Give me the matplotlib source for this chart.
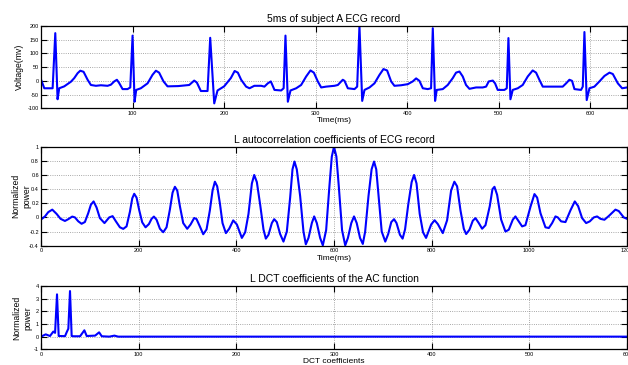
import matplotlib
matplotlib.use("Agg")
import matplotlib.pyplot as plt
from matplotlib.ticker import FuncFormatter

plt.rcParams['font.family'] = ['Liberation Sans', 'DejaVu Sans']

# ECG record (time in ms, voltage in mv)
ecg_t = [0, 3.6, 12.7, 15.6, 18.1, 19.9, 25.4, 32.7, 36.3, 40, 42.9, 46.5, 50.9, 54.5,
         60, 65.4, 72.7, 76.3, 80, 82.9, 85.4, 89.1, 94.5, 97.5, 100, 102.2, 104, 109,
         116.4, 121.8, 125.5, 129, 133.8, 138.2, 150, 161.9, 167.3, 170.2, 174.6, 181.9,
         184.8, 189.2, 192.8, 200, 207.3, 211.5, 215, 218.6, 224, 227.7, 233, 240.5, 244,
         247.7, 251, 255, 262.3, 265, 267, 269.6, 272.5, 278.7, 284.1, 289.6, 294.3, 298,
         302.3, 306, 311.4, 320.5, 324.2, 329.6, 331.5, 335.1, 342.4, 345.3, 347.8, 350.8,
         353.3, 358.8, 364.2, 369.7, 374, 378, 382.4, 386, 393.3, 400.6, 406, 409.7, 413.3,
         417, 422.4, 426, 427.9, 430.4, 432.2, 438.8, 444.2, 449.7, 453.3, 457, 460.6,
         464.2, 467.9, 475.2, 482.4, 486.1, 489, 493.4, 495.9, 498.8, 506.1, 508.7, 510.5,
         512.7, 515.2, 520.7, 526.1, 531.6, 537, 540.7, 544.3, 548, 555.3, 562.6, 569.8,
         573.5, 577.1, 580, 582.6, 589.8, 591.7, 593.5, 596, 599, 604.4, 609.9, 615.4,
         620.9, 624.5, 630, 634.7, 640]
ecg_mv = [5, -27, -27, 174, -67, -27, -20, -3, 10, 28, 37, 33, 4, -15,
          -18, -16, -18, -14, -2, 4, -8, -30, -30, -24, 165, -76, -33, -27,
          -9, 22, 37, 30, -2, -20, -19, -15, 1, -6, -37, -37,
          157, -82, -35, -20, 10, 36, 30, 4, -21, -27, -18, -18, -21,
          -9, -2, -33, -35, -27, 165, -76, -35, -27, -15, 16, 38, 30,
          -2, -24, -21, -18, -15, 4, 0, -27, -30, -21, 200, -73,
          -33, -24, -9, 22, 43, 38, -2, -18, -16, -12, -2, 9, 0,
          -27, -30, -27, 192, -73, -33, -30, -15, 10, 30, 34, 16,
          -15, -29, -24, -24, -21, -2, 1, -9, -33, -33, -27, 156,
          -67, -33, -27, -15, 16, 38, 30, 4, -21, -21, -21, -21,
          -9, 4, 0, -30, -33, -21, 178, -70, -27, -21, -2, 18,
          30, 25, -9, -27, -24]

# autocorrelation of the record (lag in ms, normalized power)
acf_lag = [0, 8.1, 14.9, 23.1, 31.9, 40.1, 49, 55.8, 64, 69.5, 76.3, 83.1, 89.9, 96.7,
           102.2, 107.7, 113.8, 120.6, 130, 139.7, 146.6, 153.4, 161.6, 168.4, 175.2,
           182.1, 186.9, 190.9, 195.7, 201.2, 207.3, 214.1, 221, 226.4, 231.2, 236.7,
           243.5, 250.3, 257.1, 263.9, 269.4, 274.2, 279, 284.4, 291.2, 299.4, 306.3,
           313.7, 318.5, 325.3, 332.2, 339, 345.8, 351.3, 356.1, 360.8, 366.3, 371.7,
           378.6, 385.4, 393.6, 401.1, 411.3, 418.1, 424.9, 431.8, 436.6, 442, 448.8,
           455.6, 460.4, 465.9, 472.7, 477.5, 482.9, 489.7, 496.5, 503.4, 510.2, 515,
           519.1, 523.8, 530.7, 537.5, 542.3, 547.8, 554.6, 559.4, 564.8, 571.6, 577.1,
           583.9, 590.7, 595.5, 600,
           604.9, 609.7, 616.5, 623, 628.5, 635.4, 641, 646.5, 653.3, 659, 663.8, 670.6,
           677, 682, 686.5, 691.5, 697.7, 705, 711, 717.3, 723, 728, 735, 740.5, 745.5,
           752, 759, 764, 769, 775.5, 782.3, 788.5, 799, 806, 812.6, 822.8, 831.6, 839.8,
           846.5, 852.1, 859, 865.8, 870.6, 877.4, 884.2, 889.7, 896.5, 903.3, 910.2, 919,
           924.5, 928.6, 934, 942.2, 951.1, 957.9, 966.1, 971.5, 978.4, 985.2, 992,
           1002.3, 1010.5, 1016, 1022.8, 1033, 1039.9, 1046.7, 1053.5, 1058.3, 1065.1,
           1074, 1084.2, 1093.1, 1099.9, 1108.1, 1116.3, 1123.8, 1132, 1138.8, 1145.6,
           1153.8, 1162.7, 1176.3, 1183.1, 1193.4, 1200]
acf_val = [-0.03, 0.014, 0.075, 0.11, 0.05, -0.02, -0.05, -0.025, 0.012, 0.0, -0.055, -0.09,
           -0.065, 0.06, 0.18, 0.226, 0.14, -0.01, -0.08, 0.0, 0.018, -0.056, -0.14, -0.162,
           -0.127, 0.08, 0.27, 0.334, 0.28, 0.1, -0.07, -0.14, -0.094, -0.02, 0.012,
           -0.033, -0.16, -0.21, -0.14, 0.11, 0.35, 0.433, 0.38, 0.16, -0.08, -0.161, -0.1,
           -0.008, -0.023, -0.127, -0.238, -0.17, 0.1, 0.38, 0.505, 0.44, 0.2, -0.08,
           -0.222, -0.16, -0.042, -0.1, -0.29, -0.21, 0.05, 0.48, 0.6, 0.5, 0.18,
           -0.17, -0.3, -0.245, -0.08, -0.025, -0.066, -0.235, -0.342, -0.2, 0.28, 0.68,
           0.79, 0.68, 0.3, -0.2, -0.38, -0.29, -0.08, 0.014, -0.08, -0.29, -0.395,
           -0.18, 0.45, 0.86, 1.0,
           0.86, 0.45, -0.18, -0.395, -0.29, -0.08, 0.014, -0.08, -0.29, -0.375, -0.2, 0.3,
           0.68, 0.79, 0.68, 0.28, -0.2, -0.342, -0.235, -0.066, -0.025, -0.08, -0.245, -0.3,
           -0.17, 0.18, 0.5, 0.6, 0.48, 0.05, -0.21, -0.29, -0.1, -0.04, -0.094, -0.222,
           -0.04, 0.38, 0.505, 0.44, 0.1, -0.16, -0.235, -0.174, -0.047, -0.01, -0.08,
           -0.16, -0.11, 0.16, 0.4, 0.433, 0.32, -0.03, -0.2, -0.174, -0.033, 0.014,
           -0.056, -0.127, -0.11, 0.15, 0.33, 0.28, 0.06, -0.14, -0.15, -0.08, 0.014,
           0.0, -0.056, -0.066, 0.1, 0.226, 0.16, -0.01, -0.08, -0.056, 0.0, 0.014,
           -0.02, -0.033, 0.02, 0.11, 0.09, 0.0, -0.02]

# DCT coefficients of the autocorrelation function
dct_idx = [0, 4.8, 9.2, 12.6, 14.4, 16.4, 18.1, 24.6, 26.3, 28, 29.7, 31.4, 33.2, 40,
           44.4, 46.8, 55.4, 59.5, 62.2, 70, 75.2, 79, 100, 600]
dct_val = [0, 0.18, 0.05, 0.4, 0.3, 3.34, 0.05, 0.04, 0.35, 0.63, 3.6, 0.05, 0.03, 0.03,
           0.5, 0.05, 0.08, 0.34, 0.03, 0.0, 0.08, 0.0, 0.0, 0.0]

W, H = 628, 365
fig = plt.figure(figsize=(W / 100, H / 100), dpi=100)


def add_axes_px(top, bottom, left=41, right=627):
    return fig.add_axes([left / W, 1 - bottom / H, (right - left) / W, (bottom - top) / H])


def style(ax, xticks, yticks):
    fmt = FuncFormatter(lambda v, p: '%g' % v)
    ax.set_xticks(xticks)
    ax.set_yticks(yticks)
    ax.xaxis.set_major_formatter(fmt)
    ax.yaxis.set_major_formatter(fmt)
    ax.tick_params(direction='in', length=4.2, width=0.8, labelsize=4,
                   top=True, right=True, colors='black')
    ax.tick_params(axis='x', pad=2)
    ax.tick_params(axis='y', pad=1.5)
    ax.grid(True, linestyle=':', color='0.55', linewidth=0.6)
    for s in ax.spines.values():
        s.set_linewidth(0.9)


blue = '#0000ff'

ax1 = add_axes_px(26, 108.3)
ax1.plot(ecg_t, ecg_mv, color=blue, linewidth=1.5)
ax1.set_xlim(0, 640)
ax1.set_ylim(-100, 200)
style(ax1, [100, 200, 300, 400, 500, 600], [-100, -50, 0, 50, 100, 150, 200])
ax1.set_title('5ms of subject A ECG record', fontsize=7.5, pad=3)
ax1.set_xlabel('Time(ms)', fontsize=6, labelpad=1)
ax1.set_ylabel('Voltage(mv)', fontsize=6.2)
ax1.yaxis.set_label_coords(-0.029, 0.5)

ax2 = add_axes_px(146.7, 245.7)
ax2.plot(acf_lag, acf_val, color=blue, linewidth=1.5)
ax2.set_xlim(0, 1200)
ax2.set_ylim(-0.4, 1)
style(ax2, [0, 200, 400, 600, 800, 1000, 1200], [-0.4, -0.2, 0, 0.2, 0.4, 0.6, 0.8, 1])
ax2.set_title('L autocorrelation coefficients of ECG record', fontsize=7.5, pad=3)
ax2.set_xlabel('Time(ms)', fontsize=6, labelpad=1)
ax2.set_ylabel('Normalized\npower', fontsize=6.2, linespacing=1.3)
ax2.yaxis.set_label_coords(-0.017, 0.5)

ax3 = add_axes_px(286, 349.3)
ax3.plot(dct_idx, dct_val, color=blue, linewidth=1.5)
ax3.set_xlim(0, 600)
ax3.set_ylim(-1, 4)
style(ax3, [0, 100, 200, 300, 400, 500, 600], [-1, 0, 1, 2, 3, 4])
ax3.set_title('L DCT coefficients of the AC function', fontsize=7.5, pad=3)
ax3.set_xlabel('DCT coefficients', fontsize=6, labelpad=1)
ax3.set_ylabel('Normalized\npower', fontsize=6.2, linespacing=1.3)
ax3.yaxis.set_label_coords(-0.014, 0.5)

fig.savefig('out.png', dpi=100)
